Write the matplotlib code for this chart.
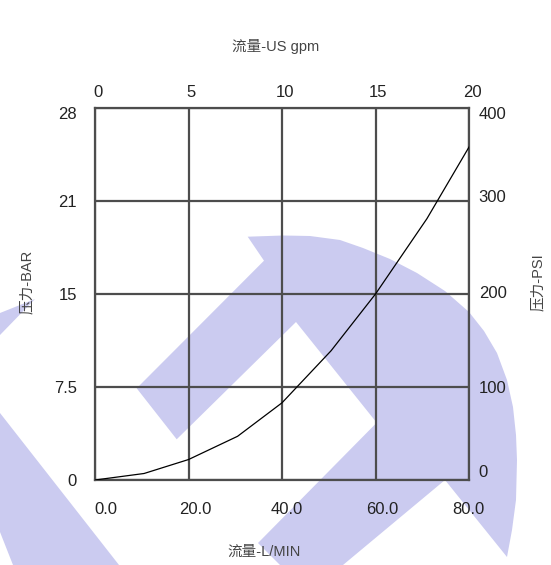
import matplotlib
matplotlib.use('Agg')
import matplotlib.pyplot as plt
from matplotlib.patches import Polygon
from matplotlib.transforms import ScaledTranslation

FONT = ['Liberation Sans', 'Noto Sans CJK SC']
plt.rcParams['font.family'] = FONT

# flow (L/min) vs pressure (PSI)
flow_lpm = [0, 10.5, 20, 30.5, 40, 50.5, 60, 71, 80]
pressure_psi = [0, 7, 22, 47, 83, 139, 200, 281, 358]

lpm_ticks = [0, 20, 40, 60, 80]
lpm_labels = ['0.0', '20.0', '40.0', '60.0', '80.0']
gpm_ticks = [0, 5, 10, 15, 20]
psi_ticks = [0, 100, 200, 300, 400]
bar_labels = ['0', '7.5', '15', '21', '28']

W, H = 551, 565
fig = plt.figure(figsize=(W / 100, H / 100), dpi=100)

# watermark logo behind everything (pixel coords)
bg = fig.add_axes([0, 0, 1, 1], zorder=0)
bg.set_xlim(0, W)
bg.set_ylim(H, 0)
bg.axis('off')
logo = '#cbcbf0'
arc = [(247.7, 236.7), (283, 235.5), (310, 236), (340, 240), (363, 248), (390, 259),
       (417, 273), (445, 291), (469, 312), (484, 331), (497, 353), (507, 380),
       (513, 407), (516, 435), (517, 460), (516, 500), (512, 530), (507, 557)]
inner = [(445, 480), (343, 565), (280, 565), (258, 543), (376.7, 422.7), (296, 322),
         (176.7, 439.3), (136.7, 388.3), (264, 260.7)]
bg.add_patch(Polygon(arc + inner, closed=True, fc=logo, ec='none'))
bg.add_patch(Polygon([(0, 413), (119, 565), (13, 565), (0, 532)], closed=True, fc=logo, ec='none'))
bg.add_patch(Polygon([(0, 313), (35, 299), (0, 335)], closed=True, fc=logo, ec='none'))

ax = fig.add_axes([95 / W, 1 - 480 / H, 374 / W, 372 / H], zorder=1)
ax.set_facecolor('none')
ax.plot(flow_lpm, pressure_psi, color='black', lw=0.9, zorder=3)

ax.set_xlim(0, 80)
ax.set_ylim(0, 400)
grid_c = '#4d4d4d'
ax.grid(True, color=grid_c, lw=1.6)
for s in ax.spines.values():
    s.set_color(grid_c)
    s.set_linewidth(1.6)

txt = '#222222'
fs = 12
ax.set_xticks(lpm_ticks, lpm_labels)
ax.set_yticks(psi_ticks, bar_labels)
ax.tick_params(axis='x', length=0, pad=16, labelsize=fs, labelcolor=txt)
ax.tick_params(axis='y', length=0, pad=13, labelsize=fs, labelcolor=txt)
for i, lab in enumerate(ax.get_xticklabels()):
    dx = [11, 7, 5, 7, -1][i]
    lab.set_transform(lab.get_transform() + ScaledTranslation(dx / 100, 0, fig.dpi_scale_trans))
for i, lab in enumerate(ax.get_yticklabels()):
    dy = [0, 0, 0, 0, -5][i]
    lab.set_transform(lab.get_transform() + ScaledTranslation(0, dy / 100, fig.dpi_scale_trans))

top = ax.secondary_xaxis('top', functions=(lambda x: x / 4, lambda x: x * 4))
top.set_xticks(gpm_ticks)
top.tick_params(length=0, pad=6, labelsize=fs, labelcolor=txt)
for i, lab in enumerate(top.get_xticklabels()):
    lab.set_transform(lab.get_transform() + ScaledTranslation(3 / 100, 0, fig.dpi_scale_trans))
top.spines['top'].set_visible(False)

right = ax.secondary_yaxis('right')
right.set_yticks(psi_ticks)
right.tick_params(length=0, pad=7, labelsize=fs, labelcolor=txt)
for i, lab in enumerate(right.get_yticklabels()):
    dy = [9, 0, 2, 5, -5][i]
    lab.set_transform(lab.get_transform() + ScaledTranslation(0, dy / 100, fig.dpi_scale_trans))
right.spines['right'].set_visible(False)

lab_c = '#444444'
fig.text(276 / W, 1 - 47 / H, '流量-US gpm', ha='center', va='center', fontsize=10.5, color=lab_c)
fig.text(264 / W, 1 - 552 / H, '流量-L/MIN', ha='center', va='center', fontsize=10.5, color=lab_c)
fig.text(27 / W, 1 - 282 / H, '压力-BAR', ha='center', va='center', rotation=90, fontsize=10.5, color=lab_c)
fig.text(538 / W, 1 - 282 / H, '压力-PSI', ha='center', va='center', rotation=90, fontsize=10.5, color=lab_c)

fig.savefig('out.png', dpi=100, facecolor='white')
